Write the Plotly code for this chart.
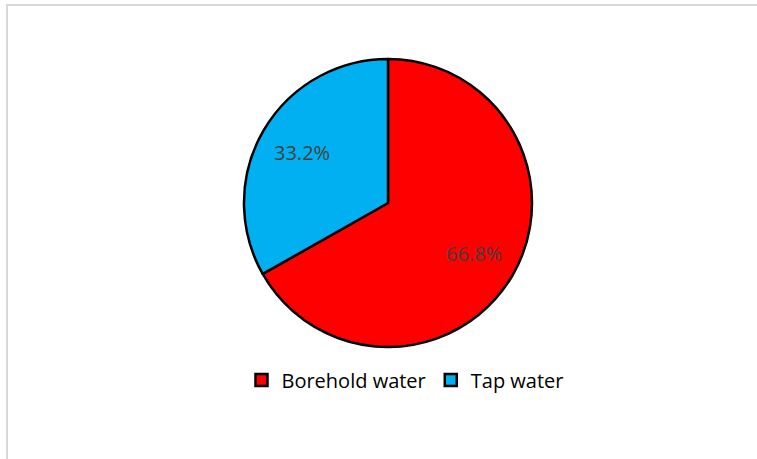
import math
import plotly.graph_objects as go

labels = ["Borehold water", "Tap water"]
values = [66.8, 33.2]
colors = ["#FF0000", "#00B0F0"]

W, H = 757, 459
cx, cy, R = 388, 203, 144  # pixel center (from top) and radius

fig = go.Figure(go.Pie(
    labels=labels,
    values=values,
    sort=False,
    direction="clockwise",
    rotation=0,
    marker=dict(colors=colors, line=dict(color="black", width=2.5)),
    textinfo="none",
    hoverinfo="label+percent",
    domain=dict(x=[(cx - R) / W, (cx + R) / W], y=[(H - cy - R) / H, (H - cy + R) / H]),
))

# percentage labels at each slice's mid-angle
total = sum(values)
cum = 0.0
annotations = []
for v in values:
    mid = (cum + v / 2) / total * 2 * math.pi
    cum += v
    r = 0.69 * R
    px = cx + r * math.sin(mid)
    py = cy - r * math.cos(mid)
    annotations.append(dict(
        x=px / W, y=1 - py / H, xref="paper", yref="paper",
        xanchor="center", yanchor="middle",
        text=f"{v / total * 100:.1f}%", showarrow=False,
        font=dict(family="Open Sans", size=20, color="#404040"),
    ))

fig.update_layout(
    width=W, height=H,
    margin=dict(l=0, r=0, t=0, b=0),
    paper_bgcolor="white",
    plot_bgcolor="white",
    showlegend=True,
    legend=dict(
        orientation="h", x=0.535, xanchor="center", y=1 - 380 / H, yanchor="middle",
        font=dict(family="Open Sans", size=20, color="black"),
        itemwidth=30,
    ),
    annotations=annotations,
    shapes=[dict(
        type="rect", xref="paper", yref="paper",
        x0=7 / W, x1=1.2, y0=-0.2, y1=1 - 5 / H,
        line=dict(color="#D9D9D9", width=2),
    )],
)

fig.write_html("out.html")
